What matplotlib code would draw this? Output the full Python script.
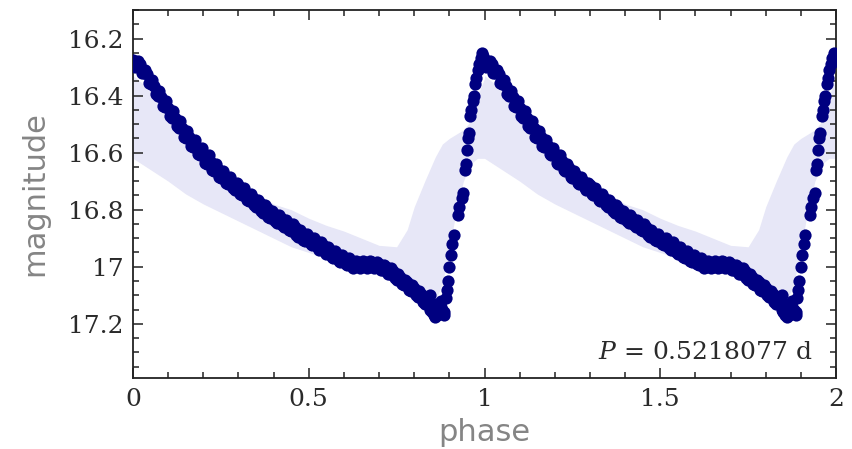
import matplotlib
matplotlib.use("Agg")
import matplotlib.pyplot as plt
import numpy as np
from matplotlib.ticker import MultipleLocator

# ---- data (one cycle, drawn twice: phase and phase+1) ----
decline_phase = [0.00, 0.01, 0.02, 0.03, 0.04, 0.05, 0.06, 0.07, 0.08, 0.09,
                 0.10, 0.11, 0.12, 0.13, 0.14, 0.15, 0.16, 0.17, 0.18, 0.19,
                 0.20, 0.21, 0.22, 0.23, 0.24, 0.25, 0.26, 0.27, 0.28, 0.29,
                 0.30, 0.31, 0.32, 0.33, 0.34, 0.35, 0.36, 0.37, 0.38, 0.39,
                 0.40, 0.41, 0.42, 0.43, 0.44, 0.45, 0.46, 0.47, 0.48, 0.49,
                 0.50, 0.51, 0.52, 0.53, 0.54, 0.55, 0.56, 0.57, 0.58, 0.59,
                 0.60, 0.61, 0.62, 0.63, 0.64, 0.65, 0.66, 0.67, 0.68, 0.69,
                 0.70, 0.71, 0.72, 0.73, 0.74, 0.75, 0.76, 0.77, 0.78, 0.79,
                 0.80, 0.81, 0.82, 0.83, 0.84, 0.85, 0.86, 0.87, 0.88,
                 0.845, 0.855, 0.865, 0.875, 0.885, 0.89, 0.86]
decline_mag = [16.275, 16.295, 16.29, 16.32, 16.325, 16.36, 16.365, 16.40, 16.405, 16.44,
               16.445, 16.48, 16.48, 16.515, 16.515, 16.55, 16.545, 16.58, 16.575, 16.61,
               16.605, 16.64, 16.63, 16.665, 16.655, 16.69, 16.68, 16.71, 16.70, 16.73,
               16.715, 16.75, 16.74, 16.77, 16.76, 16.79, 16.775, 16.81, 16.795, 16.83,
               16.815, 16.845, 16.83, 16.86, 16.845, 16.875, 16.86, 16.895, 16.88, 16.91,
               16.895, 16.925, 16.91, 16.94, 16.925, 16.955, 16.94, 16.97, 16.955, 16.985,
               16.97, 16.995, 16.98, 17.00, 16.985, 17.00, 16.985, 17.00, 16.985, 17.00,
               16.99, 17.01, 17.00, 17.025, 17.015, 17.045, 17.035, 17.065, 17.055, 17.085,
               17.075, 17.105, 17.095, 17.13, 17.12, 17.16, 17.145, 17.165, 17.15,
               17.10, 17.17, 17.13, 17.12, 17.17, 17.11, 17.175]

decline2_phase = [0.005, 0.015, 0.025, 0.035, 0.045, 0.055, 0.065, 0.075, 0.085, 0.095,
                  0.105, 0.115, 0.125, 0.135, 0.145, 0.155, 0.165, 0.175, 0.185, 0.195,
                  0.205, 0.215, 0.225, 0.235, 0.245, 0.255, 0.265, 0.275, 0.285, 0.295,
                  0.305, 0.315, 0.325, 0.335, 0.345, 0.355, 0.365, 0.375, 0.385, 0.395,
                  0.405, 0.415, 0.425, 0.435, 0.445, 0.455, 0.465, 0.475, 0.485, 0.495,
                  0.505, 0.515, 0.525, 0.535, 0.545, 0.555, 0.565, 0.575, 0.585, 0.595,
                  0.605, 0.615, 0.625, 0.635, 0.645, 0.655, 0.665, 0.675, 0.685, 0.695,
                  0.705, 0.715, 0.725, 0.735, 0.745, 0.755, 0.765, 0.775, 0.785, 0.795,
                  0.805, 0.815, 0.825, 0.835, 0.845, 0.855, 0.865, 0.875, 0.885]
decline2_mag = [16.30, 16.28, 16.32, 16.31, 16.355, 16.345, 16.395, 16.385, 16.435, 16.42,
                16.47, 16.455, 16.505, 16.49, 16.545, 16.525, 16.575, 16.555, 16.605, 16.585,
                16.635, 16.61, 16.66, 16.64, 16.685, 16.665, 16.705, 16.685, 16.725, 16.705,
                16.745, 16.725, 16.765, 16.745, 16.785, 16.765, 16.805, 16.785, 16.825, 16.805,
                16.84, 16.82, 16.855, 16.835, 16.87, 16.85, 16.89, 16.87, 16.905, 16.885,
                16.92, 16.90, 16.935, 16.915, 16.95, 16.93, 16.965, 16.945, 16.98, 16.96,
                16.99, 16.97, 17.005, 16.98, 17.005, 16.98, 17.005, 16.98, 17.005, 16.985,
                17.01, 16.995, 17.025, 17.005, 17.04, 17.025, 17.06, 17.045, 17.08, 17.065,
                17.10, 17.085, 17.125, 17.105, 17.15, 17.135, 17.17, 17.14, 17.16]

rise_phase = [0.893, 0.896, 0.900, 0.904, 0.908, 0.912, 0.925, 0.928, 0.935, 0.939,
              0.944, 0.946, 0.950, 0.953, 0.955, 0.959, 0.962, 0.967, 0.970, 0.973,
              0.976, 0.981, 0.985, 0.990, 0.993, 0.997]
rise_mag = [17.08, 17.05, 17.00, 16.96, 16.92, 16.89, 16.82, 16.79, 16.76, 16.74,
            16.66, 16.64, 16.59, 16.55, 16.53, 16.47, 16.45, 16.42, 16.40, 16.36,
            16.34, 16.31, 16.29, 16.27, 16.25, 16.26]

# envelope of the faint comparison cloud
cloud_phase = [0.00, 0.05, 0.10, 0.15, 0.20, 0.25, 0.30, 0.35, 0.40, 0.45,
               0.50, 0.55, 0.60, 0.65, 0.70, 0.75, 0.78, 0.80, 0.83, 0.86,
               0.88, 0.90, 0.92, 0.94, 0.96, 0.98, 1.00]
cloud_bright = [16.33, 16.38, 16.46, 16.53, 16.60, 16.66, 16.70, 16.74, 16.78, 16.80,
                16.83, 16.855, 16.875, 16.90, 16.925, 16.93, 16.87, 16.79, 16.70, 16.615,
                16.57, 16.55, 16.535, 16.52, 16.49, 16.40, 16.34]
cloud_faint = [16.62, 16.66, 16.70, 16.745, 16.78, 16.81, 16.84, 16.87, 16.90, 16.93,
               16.95, 16.97, 16.99, 17.01, 17.03, 17.06, 17.08, 17.10, 17.12, 17.12,
               17.06, 16.94, 16.80, 16.70, 16.64, 16.62, 16.62]

xticks = [0, 0.5, 1, 1.5, 2]
xticklabels = ["0", "0.5", "1", "1.5", "2"]
yticks = [16.2, 16.4, 16.6, 16.8, 17.0, 17.2]
yticklabels = ["16.2", "16.4", "16.6", "16.8", "17", "17.2"]
period_text = r"$P$ = 0.5218077 d"

# ---- figure ----
plt.rcParams["mathtext.fontset"] = "dejavuserif"
fig = plt.figure(figsize=(8.52, 4.49), dpi=100)
ax = fig.add_axes([133 / 852, 1 - 378 / 449, (836 - 133) / 852, (378 - 10) / 449])

navy = "#000080"
lav = "#e7e7f7"

for shift in (0, 1):
    cp = np.array(cloud_phase) + shift
    ax.fill_between(cp, cloud_bright, cloud_faint, color=lav, lw=0, zorder=1)
for shift in (0, 1):
    for ph, mg in ((decline_phase, decline_mag), (decline2_phase, decline2_mag),
                   (rise_phase, rise_mag)):
        ax.plot(np.array(ph) + shift, mg, "o", color=navy, ms=8.8, mew=0, zorder=3)

ax.set_xlim(0, 2)
ax.set_ylim(17.39, 16.1)

ax.set_xticks(xticks)
ax.set_xticklabels(xticklabels)
ax.set_yticks(yticks)
ax.set_yticklabels(yticklabels)
ax.xaxis.set_minor_locator(MultipleLocator(0.1))
ax.yaxis.set_minor_locator(MultipleLocator(0.05))

tick_color = "#222222"
ax.tick_params(which="both", direction="in", top=True, right=True, color=tick_color,
               width=1.1)
ax.tick_params(which="major", length=7.5, labelsize=18, labelcolor="#2a2a2a", pad=7)
ax.tick_params(which="minor", length=4.3)
for lab in ax.get_xticklabels() + ax.get_yticklabels():
    lab.set_fontfamily("DejaVu Serif")
for sp in ax.spines.values():
    sp.set_linewidth(1.3)
    sp.set_color(tick_color)

ax.set_xlabel("phase", fontsize=22, color="#858585", family="DejaVu Sans",
              labelpad=5)
ax.set_ylabel("magnitude", fontsize=22, color="#858585", family="DejaVu Sans",
              labelpad=13)

ax.text(0.967, 0.068, period_text, transform=ax.transAxes, ha="right", va="center",
        fontsize=18, color="#2a2a2a", family="DejaVu Serif")

fig.savefig("out.png", dpi=100)
